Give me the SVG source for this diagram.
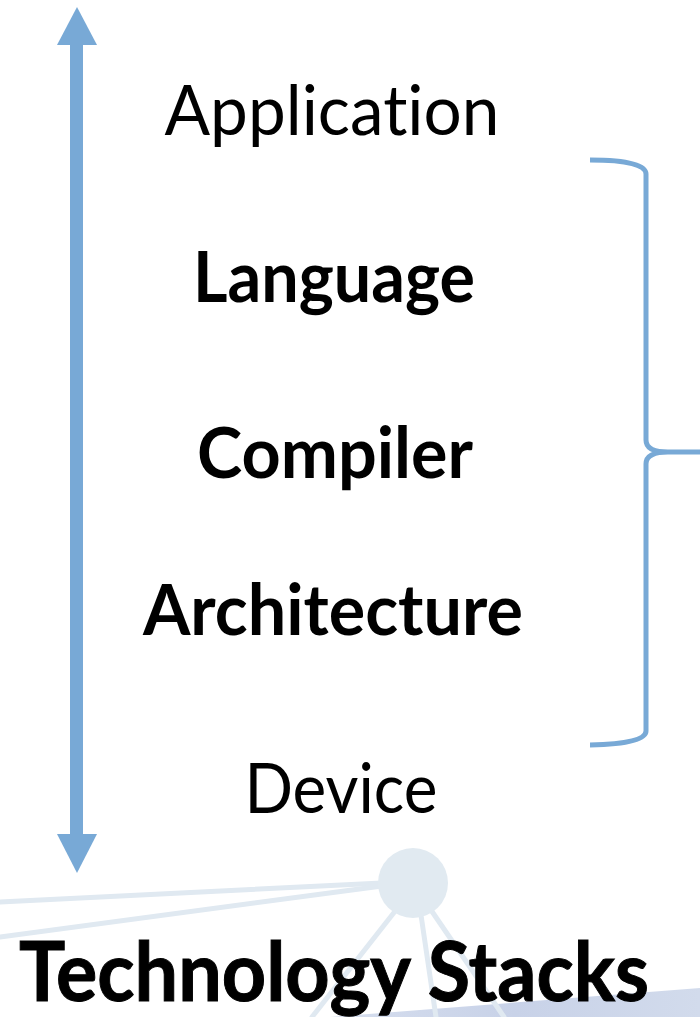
<svg xmlns="http://www.w3.org/2000/svg" width="700" height="1017" viewBox="0 0 700 1017">
  <style>
    .lbl { font-family: Lato, "Open Sans", "Liberation Sans", sans-serif; fill: #000; text-anchor: middle; font-variant-ligatures: none; font-feature-settings: "liga" 0, "clig" 0; }
    .reg { font-weight: 400; font-size: 70px; }
    .bold { font-weight: 700; font-size: 70px; }
    .title { font-weight: 700; font-size: 82px; stroke: #000; stroke-width: 1; }
    .net { stroke: #e0e9f1; stroke-width: 5; fill: none; stroke-linecap: round; }
    .brace { stroke: #78a9d6; stroke-width: 5; fill: none; stroke-linejoin: round; }
  </style>
  <defs>
    <linearGradient id="band" x1="0" y1="0" x2="1" y2="0">
      <stop offset="0" stop-color="#d6deee"/>
      <stop offset="0.5" stop-color="#c8d2e8"/>
      <stop offset="1" stop-color="#d2dbec"/>
    </linearGradient>
  </defs>
  <rect width="700" height="1017" fill="#ffffff"/>

  <!-- faint network graphic behind the title -->
  <g id="backdrop">
    <path d="M330,1017 L700,988 L700,1017 Z" fill="url(#band)"/>
    <line class="net" x1="0" y1="902" x2="382" y2="883"/>
    <line class="net" x1="0" y1="937" x2="382" y2="886"/>
    <line class="net" x1="396" y1="910" x2="312" y2="1017"/>
    <line class="net" x1="421" y1="915" x2="436" y2="1017"/>
    <line class="net" x1="431" y1="910" x2="504" y2="1017"/>
    <circle cx="413" cy="883" r="35" fill="#e1eaf1"/>
  </g>

  <!-- connectors: the double-headed stack arrow and the brace -->
  <g id="connectors">
    <g id="stack-arrow" fill="#78a9d6">
      <rect x="70" y="44" width="13" height="791"/>
      <polygon points="77,7 97,45 57,45"/>
      <polygon points="57,834 97,834 77,873"/>
    </g>
    <path id="brace" class="brace" d="M590,160 Q646,160 646,174 L646,440 Q646,452 668,452 L700,452 M668,452 Q646,452 646,464 L646,731 Q646,744 590,745"/>
  </g>

  <g id="node-application"><text class="lbl reg" x="332" y="135" textLength="335" lengthAdjust="spacingAndGlyphs">Application</text></g>
  <g id="node-language"><text class="lbl bold" x="334" y="302" textLength="282" lengthAdjust="spacingAndGlyphs">Language</text></g>
  <g id="node-compiler"><text class="lbl bold" x="335" y="478" textLength="276" lengthAdjust="spacingAndGlyphs">Compiler</text></g>
  <g id="node-architecture"><text class="lbl bold" x="333" y="635" textLength="380" lengthAdjust="spacingAndGlyphs">Architecture</text></g>
  <g id="node-device"><text class="lbl reg" x="341" y="813" textLength="193" lengthAdjust="spacingAndGlyphs">Device</text></g>
  <g id="title"><text class="lbl title" x="334" y="1001" textLength="630" lengthAdjust="spacingAndGlyphs">Technology Stacks</text></g>
</svg>
